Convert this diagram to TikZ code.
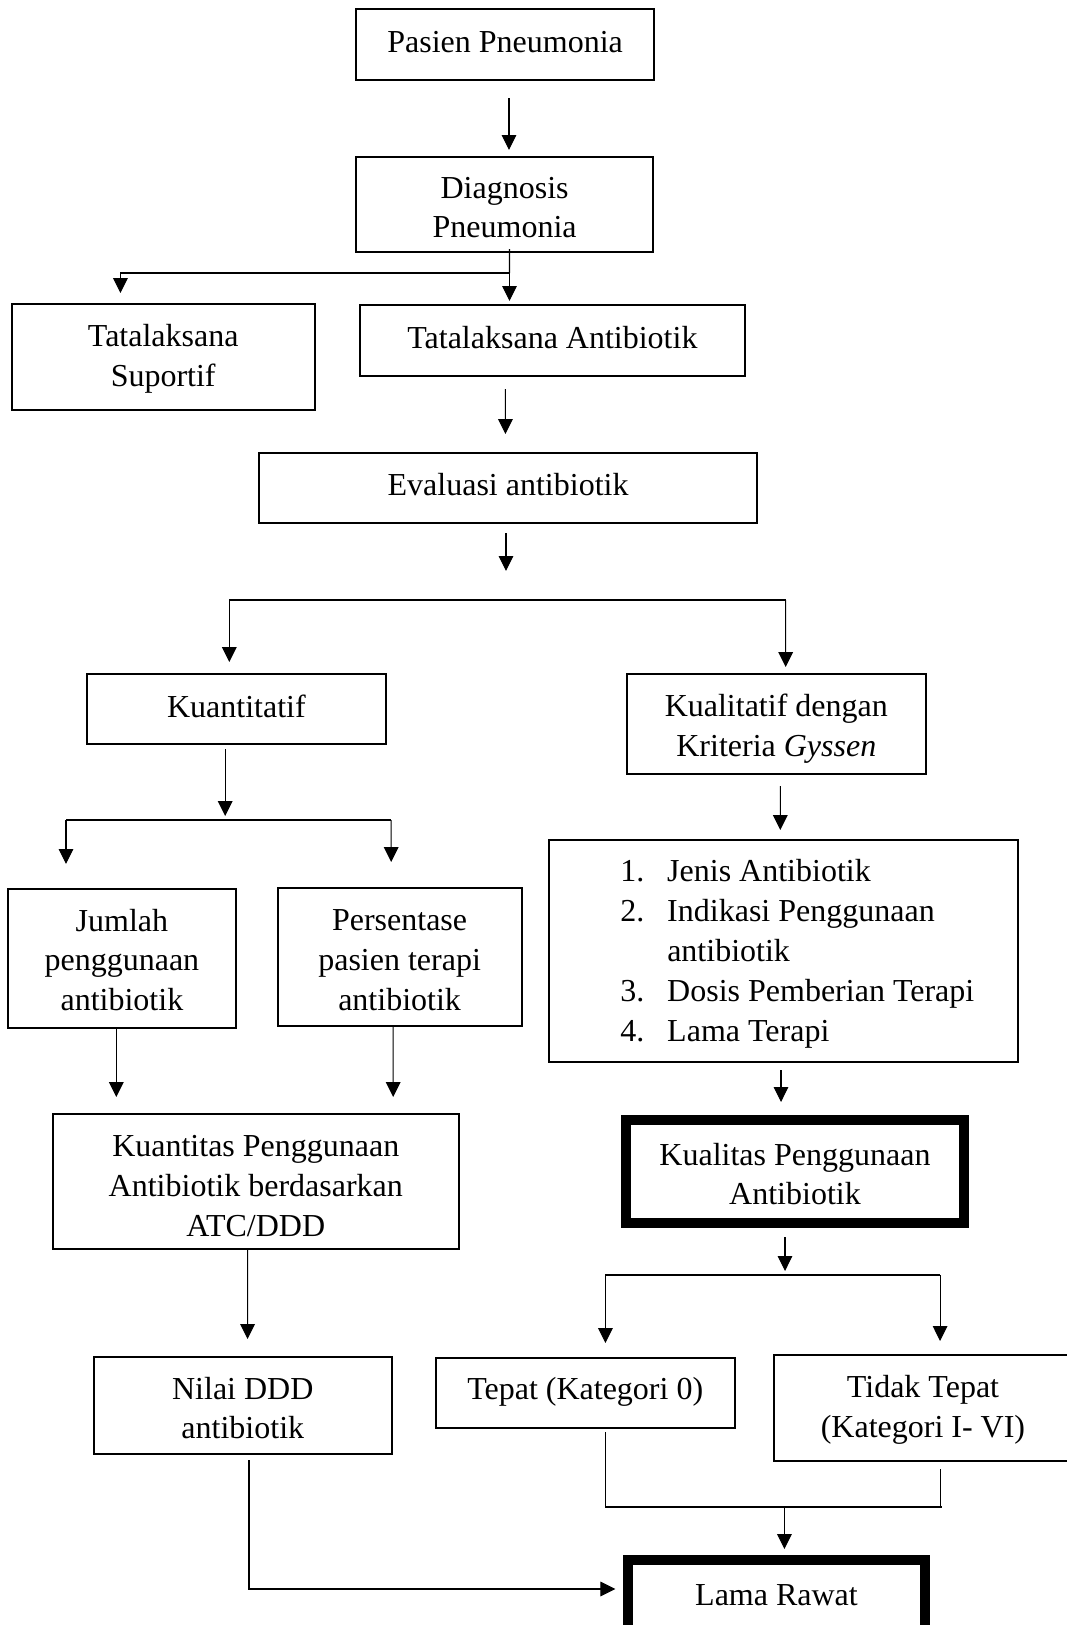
\documentclass[tikz,border=0pt]{standalone}
\usepackage{fontspec}
\setmainfont{Liberation Serif}
\usetikzlibrary{arrows.meta,calc}
\begin{document}
\begin{tikzpicture}[x=0.75pt,y=-0.75pt,
  box/.style={draw, line width=1.5pt, inner sep=0pt},
  thickbox/.style={draw, line width=7.5pt, inner sep=0pt},
  sz/.style 2 args={minimum width=#1*0.75pt, minimum height=#2*0.75pt},
  txt/.style={inner sep=0pt, align=center, font=\fontsize{24}{29.8}\selectfont},
  line/.style={line width=0.8pt},
  arr/.style={line, -{Triangle[length=11.25pt,width=11pt]}},
]
\useasboundingbox (0,0) rectangle (1067,1625);
\clip (0,0) rectangle (1067,1625);

% boxes
\node[box, sz={297.6}{71}]   (pasien)    at (505.1,44.5)  {};
\node[box, sz={296.6}{95}]   (diag)      at (504.6,204.5) {};
\node[box, sz={302.6}{106}]  (suportif)  at (163.2,357)   {};
\node[box, sz={384.2}{71}]   (tatab)     at (552.4,340.5) {};
\node[box, sz={498.6}{70}]   (eval)      at (508.1,488)   {};
\node[box, sz={299.6}{70}]   (kuant)     at (236.4,709)   {};
\node[box, sz={298.6}{100}]  (kual)      at (776.3,724)   {};
\node[box, sz={227.9}{139}]  (jumlah)    at (121.9,958.5) {};
\node[box, sz={243.8}{138}]  (persen)    at (399.6,957)   {};
\node[box, sz={468.6}{222}]  (list)      at (783.7,951)   {};
\node[box, sz={406}{135}]    (kuantitas) at (255.8,1181.5) {};
\node[thickbox, sz={338}{103}] (kualitas) at (795,1171.5) {};
\node[box, sz={298.6}{97}]   (nilai)     at (242.8,1405.5) {};
\node[box, sz={298.6}{70}]   (tepat)     at (585.2,1393)  {};
\node[box, sz={298}{106}]    (tidak)     at (923,1408)    {};
\node[thickbox, sz={297}{70}] (lama)     at (776.5,1595)  {};

% texts
\node[txt] (pasien-t)    at ($(pasien)+(0,-2)$)    {Pasien Pneumonia};
\node[txt] (diag-t)      at ($(diag)+(0,3)$)       {Diagnosis\\Pneumonia};
\node[txt] (suportif-t)  at ($(suportif)+(0,1.5)$) {Tatalaksana\\Suportif};
\node[txt] (tatab-t)     at ($(tatab)+(0,-3)$)     {Tatalaksana Antibiotik};
\node[txt] (eval-t)      at ($(eval)+(0,-3)$)      {Evaluasi antibiotik};
\node[txt] (kuant-t)     at ($(kuant)+(0,-3)$)     {Kuantitatif};
\node[txt] (kual-t)      at ($(kual)+(0,5)$)       {Kualitatif dengan\\Kriteria \textit{Gyssen}};
\node[txt] (jumlah-t)    at ($(jumlah)+(0,1.5)$)   {Jumlah\\penggunaan\\antibiotik};
\node[txt] (persen-t)    at ($(persen)+(0,3)$)     {Persentase\\pasien terapi\\antibiotik};
\node[txt, align=left, anchor=west, font=\fontsize{24}{30}\selectfont] (list-t) at (620,954)
  {\makebox[35.25pt][l]{1.}Jenis Antibiotik\\
   \makebox[35.25pt][l]{2.}Indikasi Penggunaan\\
   \hspace*{35.25pt}antibiotik\\
   \makebox[35.25pt][l]{3.}Dosis Pemberian Terapi\\
   \makebox[35.25pt][l]{4.}Lama Terapi};
\node[txt] (kuantitas-t) at ($(kuantitas)+(0,4.5)$) {Kuantitas Penggunaan\\Antibiotik berdasarkan\\ATC/DDD};
\node[txt] (kualitas-t)  at ($(kualitas)+(0,2.5)$)  {Kualitas Penggunaan\\Antibiotik};
\node[txt] (nilai-t)     at ($(nilai)+(0,2.5)$)     {Nilai DDD\\antibiotik};
\node[txt] (tepat-t)     at ($(tepat)+(0,-1)$)      {Tepat (Kategori 0)};
\node[txt] (tidak-t)     at ($(tidak)+(0,2)$)       {Tidak Tepat\\(Kategori I- VI)};
\node[txt] (lama-t)      at (lama)                  {Lama Rawat};

% junction coordinates
\coordinate (j1) at (509.5,273);
\coordinate (e1) at (506,571);
\coordinate (b1) at (229.3,600);
\coordinate (b2) at (785.7,600);
\coordinate (k1) at (225.2,816);
\coordinate (b3) at (66,820);
\coordinate (b4) at (391.2,820);
\coordinate (k2) at (785,1271);
\coordinate (b5) at (605.4,1275);
\coordinate (b6) at (940.1,1275);
\coordinate (m1) at (605.4,1507);
\coordinate (m2) at (942,1507);
\coordinate (m3) at (784.4,1507);

% connectors
\draw[arr] ($(pasien.south)+(3.9,17)$) -- ($(diag.north)+(4.4,-6)$);
\draw[line] ($(diag.south)+(4.9,-4)$) -- (j1);
\draw[arr] (j1) -- ($(tatab.north)+(-42.9,-3)$);
\draw[arr] (j1) -| ($(suportif.north)+(-42.8,-10)$);
\draw[arr] ($(tatab.south)+(-47,12)$) -- ($(eval.north)+(-2.7,-18)$);
\draw[arr] ($(eval.south)+(-2.1,9)$) -- (e1);
\draw[line] (b1) -- (b2);
\draw[arr] (b1) -- ($(kuant.north)+(-7.1,-11)$);
\draw[arr] (b2) -- ($(kual.north)+(9.4,-6)$);
\draw[arr] ($(kuant.south)+(-11.2,4)$) -- (k1);
\draw[line] (b3) -- (b4);
\draw[arr] (b3) -- ($(jumlah.north)+(-55.9,-24)$);
\draw[arr] (b4) -- ($(persen.north)+(-8.4,-25)$);
\draw[arr] ($(kual.south)+(4,11)$) -- ($(list.north)+(-3.4,-9)$);
\draw[arr] ($(jumlah.south)+(-5.6,0)$) -- ($(kuantitas.north)+(-139.5,-16)$);
\draw[arr] ($(persen.south)+(-6.4,0)$) -- ($(kuantitas.north)+(137.4,-16)$);
\draw[arr] ($(list.south)+(-2.7,7)$) -- ($(kualitas.north)+(-14,-13)$);
\draw[arr] ($(kuantitas.south)+(-8.2,0)$) -- ($(nilai.north)+(4.8,-17)$);
\draw[arr] ($(kualitas.south)+(-10,9)$) -- (k2);
\draw[line] (b5) -- (b6);
\draw[arr] (b5) -- ($(tepat.north)+(20.2,-14)$);
\draw[arr] (b6) -- ($(tidak.north)+(17.1,-13)$);
\draw[line] ($(tepat.south)+(20.2,3)$) -- (m1) -- (m2);
\draw[line] ($(tidak.south)+(17.1,7)$) -- ($(tidak.south)+(17.1,46)$);
\draw[arr] (m3) -- ($(lama.north)+(7.9,-6)$);
\draw[arr] ($(nilai.south)+(6.2,5)$) |- ($(lama.west)+(-7.6,-6)$);
\end{tikzpicture}
\end{document}
